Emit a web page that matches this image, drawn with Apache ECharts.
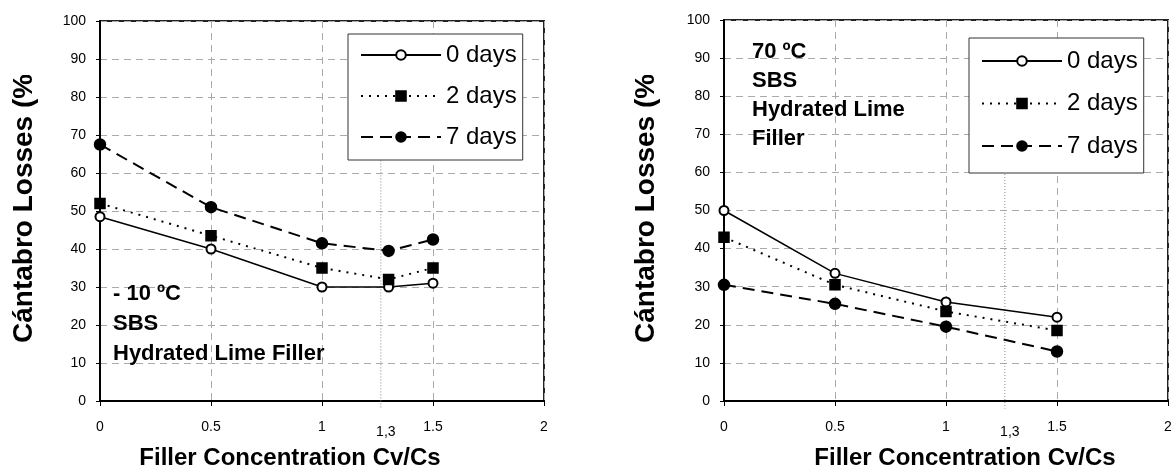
<!DOCTYPE html>
<html>
<head>
<meta charset="utf-8">
<script src="https://cdn.jsdelivr.net/npm/echarts@6/dist/echarts.min.js"></script>
<style>
  html, body { margin: 0; padding: 0; background: #fff; }
  #chart { width: 1176px; height: 472px; }
</style>
</head>
<body>
<div id="chart"></div>
<script>
// Cántabro losses vs. filler concentration, two test temperatures
const seriesNames = ['0 days', '2 days', '7 days'];

// -10 ºC panel
const xLeft = [0, 0.5, 1, 1.3, 1.5];
const left0 = [48.5, 40, 30, 30, 31];
const left2 = [52, 43.5, 35, 32, 35];
const left7 = [67.5, 51, 41.5, 39.5, 42.5];

// 70 ºC panel
const xRight = [0, 0.5, 1, 1.5];
const right0 = [50, 33.5, 26, 22];
const right2 = [43, 30.5, 23.5, 18.5];
const right7 = [30.5, 25.5, 19.5, 13];

// reference concentration marker (1,3)
const refX = 1.265;
const refLabel = '1,3';
const refLeft = [87, -2];
const refRight = [84, -2];

const leftNotes = ['- 10 ºC', 'SBS', 'Hydrated Lime Filler'];
const rightNotes = ['70 ºC', 'SBS', 'Hydrated Lime', 'Filler'];
const yTitle = 'Cántabro Losses (%';
const xTitle = 'Filler Concentration Cv/Cs';

const FONT = '"Liberation Sans", Arial, sans-serif';

const styles = {
  '0 days': { symbol: 'emptyCircle', symbolSize: 9, lineStyle: { color: '#000', width: 1.5, type: 'solid' } },
  '2 days': { symbol: 'rect', symbolSize: 10, lineStyle: { color: '#000', width: 2, type: [2, 6] } },
  '7 days': { symbol: 'circle', symbolSize: 11, lineStyle: { color: '#000', width: 2, type: [12, 7] } }
};

function pairs(xs, ys) { return xs.map((x, i) => [x, ys[i]]); }

function dataSeries(name, xs, ys, idx) {
  const s = styles[name];
  return {
    name: name, type: 'line', xAxisIndex: idx, yAxisIndex: idx,
    data: pairs(xs, ys),
    symbol: s.symbol, symbolSize: s.symbolSize,
    itemStyle: { color: '#000', borderColor: '#000', borderWidth: 1.5 },
    lineStyle: s.lineStyle,
    z: 5, animation: false
  };
}

function refSeries(vals, idx) {
  return {
    name: 'ref', type: 'line', xAxisIndex: idx, yAxisIndex: idx, clip: false,
    data: [
      [refX, vals[0]],
      { value: [refX, vals[1]], label: { show: true, formatter: refLabel, position: 'bottom', distance: 17, offset: [5, 0], color: '#000', fontSize: 14, fontFamily: FONT } }
    ],
    symbol: 'circle', symbolSize: 0,
    lineStyle: { color: '#888', width: 1, type: [1, 2] },
    itemStyle: { color: '#888' },
    z: 2, animation: false, silent: true
  };
}

function xAxis(idx) {
  return {
    gridIndex: idx, type: 'value', min: 0, max: 2, interval: 0.5,
    axisLine: { show: true, onZero: false, lineStyle: { color: '#000', width: 2 } },
    axisTick: { show: true, length: 5, lineStyle: { color: '#000', width: 1 } },
    axisLabel: { margin: 19, color: '#000', fontSize: 14, fontFamily: FONT, formatter: v => String(v) },
    splitLine: { show: true, lineStyle: { color: '#aaa', width: 1, type: [7, 5] } }
  };
}

function yAxis(idx) {
  return {
    gridIndex: idx, type: 'value', min: 0, max: 100, interval: 10,
    axisLine: { show: true, onZero: false, lineStyle: { color: '#000', width: 2 } },
    axisTick: { show: true, length: 4, lineStyle: { color: '#000', width: 1 } },
    axisLabel: { margin: 14, color: '#000', fontSize: 14, fontFamily: FONT },
    splitLine: { show: true, lineStyle: { color: '#aaa', width: 1, type: [7, 5] } }
  };
}

function legend(left, top, gap, padding) {
  return {
    data: seriesNames, orient: 'vertical', left: left, top: top,
    itemWidth: 80, itemHeight: 12, itemGap: gap,
    padding: padding,
    borderColor: '#333', borderWidth: 1, backgroundColor: '#fff',
    textStyle: { color: '#000', fontSize: 24, fontFamily: FONT, padding: [0, 0, 0, 0] },
    selectedMode: false
  };
}

function noteTexts(lines, x, y0, step) {
  return lines.map((t, i) => ({
    type: 'text', x: x, y: y0 + i * step, z: 10,
    style: { text: t, fill: '#000', font: 'bold 22px ' + FONT, textAlign: 'left', textVerticalAlign: 'middle' }
  }));
}

function yTitleText(x, y) {
  return {
    type: 'text', x: x, y: y, rotation: Math.PI / 2, z: 10,
    style: { text: yTitle, fill: '#000', font: 'bold 28px ' + FONT, textAlign: 'left', textVerticalAlign: 'middle' }
  };
}

// white band that trims the top of the rotated title, as on the original sheet
function titleMask(x) {
  return { type: 'rect', shape: { x: x, y: 0, width: 44, height: 75 }, style: { fill: '#fff' }, z: 11, silent: true };
}

function xTitleText(x, y) {
  return {
    type: 'text', x: x, y: y, z: 10,
    style: { text: xTitle, fill: '#000', font: 'bold 24px ' + FONT, textAlign: 'center', textVerticalAlign: 'middle' }
  };
}

const chart = echarts.init(document.getElementById('chart'), null, { renderer: 'canvas' });

chart.setOption({
  backgroundColor: '#fff',
  animation: false,
  grid: [
    { left: 100, top: 21, right: 632, bottom: 71, show: true, borderColor: '#222', borderWidth: 2, backgroundColor: 'transparent' },
    { left: 724, top: 20, right: 8, bottom: 71, show: true, borderColor: '#222', borderWidth: 2, backgroundColor: 'transparent' }
  ],
  xAxis: [xAxis(0), xAxis(1)],
  yAxis: [yAxis(0), yAxis(1)],
  legend: [legend(348, 34, 17, [9, 6, 11, 12]), legend(969, 38, 18.5, [11, 6, 15, 12])],
  series: [
    refSeries(refLeft, 0),
    dataSeries('0 days', xLeft, left0, 0),
    dataSeries('2 days', xLeft, left2, 0),
    dataSeries('7 days', xLeft, left7, 0),
    refSeries(refRight, 1),
    dataSeries('0 days', xRight, right0, 1),
    dataSeries('2 days', xRight, right2, 1),
    dataSeries('7 days', xRight, right7, 1)
  ],
  graphic: [
    ...noteTexts(leftNotes, 113, 294, 30),
    ...noteTexts(rightNotes, 752, 52, 29),
    yTitleText(24, 343),
    yTitleText(646, 343),
    titleMask(2),
    titleMask(624),
    xTitleText(290, 458),
    xTitleText(965, 458)
  ]
});
</script>
</body>
</html>
